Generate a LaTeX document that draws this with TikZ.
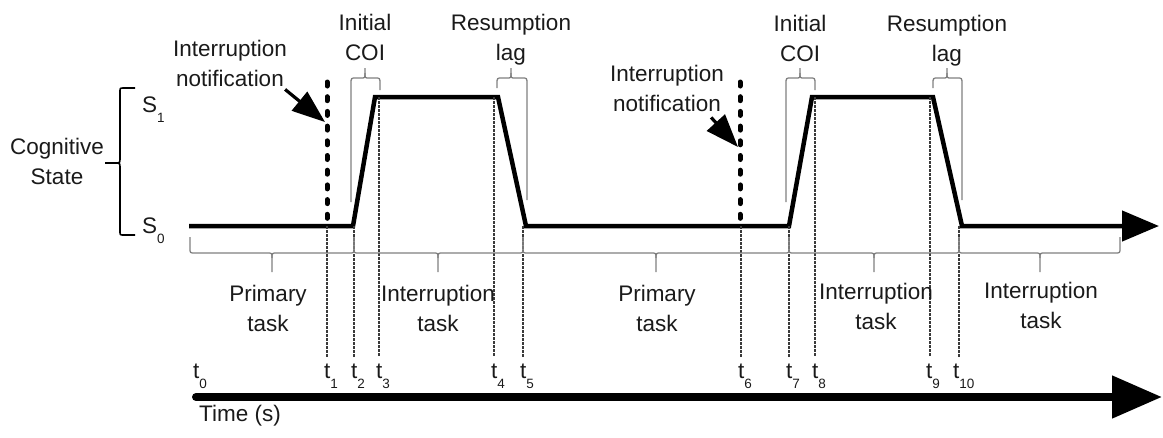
\documentclass[tikz,border=0pt]{standalone}
\usepackage{fontspec}
\setmainfont{Liberation Sans}
\usetikzlibrary{arrows.meta}

\definecolor{ink}{HTML}{1A1A1A}
\definecolor{bracegray}{HTML}{808080}
\definecolor{dotgray}{HTML}{3A3A3A}

% lowered small index, as in S_1 or t_3
\newcommand{\lowsub}[1]{\raisebox{-10pt}{\fontsize{13.5}{13.5}\selectfont #1}}

% curly brace opening downwards from xa to xb with its tip at xm
\newcommand{\BraceBelow}[3]{%
  \draw[span] (#1,237) -- (#1,248) .. controls (#1,253) .. (#1+5,253) -- (#2-5,253)
        .. controls (#2,253) .. (#2,258) -- (#2,272);
  \draw[span] (#2,258) .. controls (#2,253) .. (#2+5,253) -- (#3-5,253)
        .. controls (#3,253) .. (#3,248) -- (#3,237);
}
% curly brace opening upwards; its legs reach down to y-left and y-right
\newcommand{\BraceAbove}[5]{%
  \draw[span] (#1,#4) -- (#1,84) .. controls (#1,78) .. (#1+5,78) -- (#2-4,78)
        .. controls (#2,78) .. (#2,73) -- (#2,68);
  \draw[span] (#2,73) .. controls (#2,78) .. (#2+4,78) -- (#3-5,78)
        .. controls (#3,78) .. (#3,84) -- (#3,#5);
}

\tikzset{
  lbl/.style={font=\fontsize{22.5}{29.5}\selectfont, text=ink, align=center,
              inner sep=0pt, anchor=north},
  tick/.style={font=\fontsize{22.5}{27}\selectfont, text=ink, inner sep=0pt,
               anchor=base west},
  signal/.style={line width=4.5pt, line join=miter,
                 -{Triangle[length=37pt,width=30pt]}},
  notifyline/.style={line width=5pt, dash pattern=on 4pt off 10.7pt, line cap=round},
  guide/.style={line width=1.2pt, dotgray, dash pattern=on 2.5pt off 1.5pt},
  span/.style={line width=1.3pt, bracegray},
  pointer/.style={line width=3.2pt, -{Triangle[length=33pt,width=24pt]}},
  timeaxis/.style={line width=8pt, line cap=round,
                   -{Triangle[length=50pt,width=41pt]}},
  statebrace/.style={line width=1.6pt, black},
}

\begin{document}
\begin{tikzpicture}[x=1pt,y=-1pt]
\useasboundingbox (0,0) rectangle (1163,437);

% ---- cognitive state axis ----
\node[lbl] (cog) at (57,138) {Cognitive\\State};
\draw[statebrace] (135,88) -- (124,88) .. controls (120,88) .. (120,92) -- (120,158)
      .. controls (120,163) .. (115,163) -- (105,163);
\draw[statebrace] (115,163) .. controls (120,163) .. (120,168) -- (120,231)
      .. controls (120,235) .. (124,235) -- (135,235);
\node[tick] (s1) at (142,112) {S\lowsub{1}};
\node[tick] (s0) at (142,233) {S\lowsub{0}};

% ---- state signal over time ----
\coordinate (p0) at (189,226);
\coordinate (r1a) at (353,226);  \coordinate (r1b) at (375,97);
\coordinate (f1a) at (498,97);   \coordinate (f1b) at (526,226);
\coordinate (r2a) at (789,226);  \coordinate (r2b) at (812,97);
\coordinate (f2a) at (933,97);   \coordinate (f2b) at (962,226);
\coordinate (pend) at (1159,226);
\draw[signal] (p0) -- (r1a) -- (r1b) -- (f1a) -- (f1b) -- (r2a) -- (r2b)
      -- (f2a) -- (f2b) -- (pend);

% ---- interruption notifications ----
\coordinate (n1top) at (327,82);  \coordinate (n1bot) at (327,226);
\coordinate (n2top) at (740,82);  \coordinate (n2bot) at (740,226);
\draw[notifyline] (n1top) -- (n1bot);
\draw[notifyline] (n2top) -- (n2bot);
\node[lbl] (n1) at (230,40) {Interruption\\notification};
\node[lbl] (n2) at (667,65) {Interruption\\notification};
\coordinate (n1tip) at (325,122);
\coordinate (n2tip) at (738,147);
\draw[pointer] ([shift={(-2,3)}]n1.south east) -- (n1tip);
\draw[pointer] ([shift={(-13,6)}]n2.south east) -- (n2tip);

% ---- phase braces above the signal ----
\BraceAbove{351}{365}{380}{202}{90}
\BraceAbove{497}{511}{527}{88}{200}
\BraceAbove{786}{800}{815}{202}{90}
\BraceAbove{933}{947}{962}{88}{200}
\node[lbl] (coi1) at (365,14) {Initial\\COI};
\node[lbl] (lag1) at (511,14) {Resumption\\lag};
\node[lbl] (coi2) at (800,15) {Initial\\COI};
\node[lbl] (lag2) at (947,15) {Resumption\\lag};

% ---- time marks ----
\foreach \x/\ytop in {327/226, 354/226, 379/97, 494/97, 523/226,
                      741/226, 789/226, 815/97, 930/97, 959/226}
  \draw[guide] (\x,\ytop) -- (\x,357);

\node[tick] (t0) at (193,378) {t\lowsub{0}};
\node[tick] (t1) at (324,378) {t\lowsub{1}};
\node[tick] (t2) at (351,378) {t\lowsub{2}};
\node[tick] (t3) at (376,378) {t\lowsub{3}};
\node[tick] (t4) at (491,378) {t\lowsub{4}};
\node[tick] (t5) at (520,378) {t\lowsub{5}};
\node[tick] (t6) at (738,378) {t\lowsub{6}};
\node[tick] (t7) at (786,378) {t\lowsub{7}};
\node[tick] (t8) at (812,378) {t\lowsub{8}};
\node[tick] (t9) at (926,378) {t\lowsub{9}};
\node[tick] (t10) at (953,378) {t\lowsub{10}};

% ---- task braces below the signal ----
\BraceBelow{190}{272}{354}
\BraceBelow{354}{438}{523}
\BraceBelow{523}{656}{789}
\BraceBelow{789}{874}{959}
\BraceBelow{959}{1040}{1120}
\node[lbl] (task1) at (268,285) {Primary\\task};
\node[lbl] (task2) at (438,285) {Interruption\\task};
\node[lbl] (task3) at (657,285) {Primary\\task};
\node[lbl] (task4) at (876,283) {Interruption\\task};
\node[lbl] (task5) at (1041,282) {Interruption\\task};

% ---- time axis ----
\coordinate (ax0) at (196,397);
\coordinate (ax1) at (1162,397);
\draw[timeaxis] (ax0) -- (ax1);
\node[lbl, anchor=north west] (time) at (199,405) {Time (s)};
\end{tikzpicture}
\end{document}
